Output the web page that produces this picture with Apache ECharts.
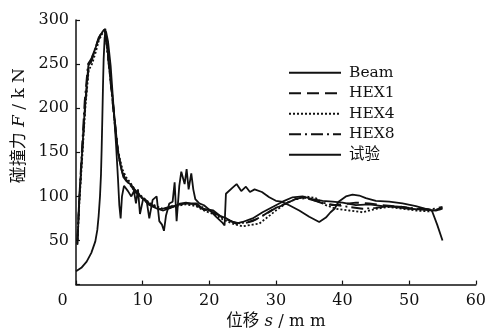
<!DOCTYPE html>
<html>
<head>
<meta charset="utf-8">
<script src="https://cdn.jsdelivr.net/npm/echarts@6/dist/echarts.min.js"></script>
<style>html,body{margin:0;padding:0;background:#fff}#c{width:489px;height:335px}</style>
</head>
<body>
<div id="c"></div>
<script>
var seriesNames = ['Beam', 'HEX1', 'HEX4', 'HEX8', '试验'];
var xTicks = [0, 10, 20, 30, 40, 50, 60];
var yTicks = [0, 50, 100, 150, 200, 250, 300];

var beamData = [[0.2,45],[0.5,95],[0.85,142],[1.35,203],[1.85,248],[2.2,252],[2.6,262],[3.1,272],[3.6,282],[4.0,287],[4.4,290],[4.8,262],[5.3,225],[5.8,188],[6.3,150],[6.7,135],[7.1,122],[7.6,117],[8.3,113],[9.1,105],[10.1,97],[11.1,90],[12.2,86],[13.1,84],[14.2,87],[15.1,90],[16.6,92],[18.1,92],[19,86],[20.6,84],[21.6,78],[22.6,75],[24,69],[25,71],[26.5,75],[28,82],[29.5,88],[31,94],[32.5,99],[34,100],[35.5,97],[37,95],[38.5,94],[40,93],[42,90],[44,91],[46,89],[48,88],[50,86],[52,85],[54,84],[55,86]];
var hex1Data = [[0.2,48],[0.5,98],[0.9,145],[1.4,205],[1.9,246],[2.4,255],[2.9,268],[3.4,280],[3.9,286],[4.3,288],[4.7,268],[5.2,232],[5.7,195],[6.2,158],[6.6,138],[7.0,126],[7.5,119],[8.2,112],[9.0,104],[10,98],[11,92],[12,88],[13,86],[14,88],[15,91],[16.5,93],[18,90],[19.2,85],[20.6,82],[22,76],[23.5,71],[25,69],[26.5,72],[28,78],[29.5,85],[31,90],[32.5,96],[34,99],[35.5,96],[37,92],[38.5,90],[40,91],[42,93],[44,92],[46,90],[48,89],[50,87],[52,86],[54,85],[55,87]];
var hex4Data = [[0.2,46],[0.5,92],[0.9,140],[1.4,200],[1.9,243],[2.4,250],[2.9,262],[3.4,276],[3.9,284],[4.3,287],[4.7,266],[5.2,230],[5.7,192],[6.2,156],[6.6,142],[7.0,130],[7.5,122],[8.2,115],[9.0,106],[10,99],[11,93],[12,89],[13,86],[14,87],[15,89],[16.5,91],[18,89],[19.2,84],[20.6,80],[22,74],[23.5,69],[25,66],[26.5,68],[27.5,69],[28.5,75],[30,84],[31.5,92],[33,97],[34.5,100],[36,98],[37.5,90],[39,86],[41,84],[43,82],[45,86],[47,88],[49,86],[51,84],[53,83],[55,86]];
var hex8Data = [[0.2,50],[0.5,100],[0.85,148],[1.3,208],[1.8,250],[2.3,256],[2.8,266],[3.3,277],[3.8,285],[4.2,289],[4.6,272],[5.1,236],[5.6,198],[6.1,162],[6.5,142],[6.9,128],[7.4,120],[8.1,113],[8.9,106],[9.9,98],[10.9,91],[12,87],[13,85],[14,87],[15,90],[16.5,92],[18,91],[19.5,86],[21,80],[22.5,74],[24,70],[25.5,70],[27,74],[28.5,80],[30,87],[31.5,92],[33,97],[34.5,98],[36,95],[37.5,92],[39,90],[41,88],[43,86],[45,87],[47,89],[49,88],[51,86],[53,85],[55,88]];
var testData = [[0,15],[0.8,19],[1.6,26],[2.3,36],[2.9,49],[3.2,62],[3.4,78],[3.6,100],[3.75,125],[3.85,154],[3.95,188],[4.05,225],[4.15,256],[4.3,280],[4.5,287],[4.8,276],[5.2,248],[5.6,205],[6.0,160],[6.3,120],[6.5,90],[6.7,75],[6.9,100],[7.2,112],[7.8,106],[8.3,100],[8.7,106],[9.0,92],[9.3,108],[9.6,80],[10.1,98],[10.6,95],[11.0,75],[11.5,96],[12.1,100],[12.5,72],[12.9,68],[13.2,61],[13.5,78],[14.0,92],[14.5,94],[14.8,116],[15.1,72],[15.5,112],[15.8,128],[16.3,114],[16.6,131],[16.9,108],[17.3,126],[17.6,108],[17.9,97],[18.5,92],[19.2,90],[20,85],[21,77],[22,70],[22.3,67],[22.5,103],[23.5,110],[24.1,114],[24.8,106],[25.5,111],[26.1,105],[26.8,108],[27.9,105],[29,99],[30,95],[30.8,94],[32,90],[33.5,84],[35,77],[36.5,71],[37.5,76],[38.2,82],[38.8,86],[39.4,94],[40.5,100],[41.5,102],[42.5,101],[43.5,98],[45,95],[47,94],[49,92],[51,89],[53.4,84],[54.2,68],[55,50]];

var allData = [beamData, hex1Data, hex4Data, hex8Data, testData];
var dashTypes = ['solid', [12, 6], [2, 2], [12, 4, 2, 4], 'solid'];

var FONT = '"DejaVu Serif", "Liberation Serif", "Noto Sans CJK SC", serif';

var chart = echarts.init(document.getElementById('c'), null, {renderer: 'canvas'});
chart.setOption({
  animation: false,
  backgroundColor: '#fff',
  grid: {left: 76, right: 12, top: 20, bottom: 49, containLabel: false},
  legend: {
    orient: 'vertical',
    left: 283,
    top: 60,
    itemWidth: 52,
    itemHeight: 14,
    itemGap: 5,
    data: seriesNames,
    itemStyle: {opacity: 0},
    textStyle: {fontFamily: FONT, fontSize: 15.5, color: '#111', padding: [0, 0, 0, 3]}
  },
  xAxis: {
    type: 'value',
    min: xTicks[0],
    max: xTicks[xTicks.length - 1],
    interval: 10,
    name: '{a|位移 }{b|s}{a| / m m}',
    nameLocation: 'middle',
    nameGap: 25,
    nameTextStyle: {
      rich: {
        a: {fontFamily: FONT, fontSize: 16.5, color: '#111'},
        b: {fontFamily: FONT, fontSize: 16.5, fontStyle: 'italic', color: '#111'}
      }
    },
    axisLine: {show: true, lineStyle: {color: '#111', width: 1.5}},
    axisTick: {show: true, inside: true, length: 4, lineStyle: {color: '#111', width: 1.2}},
    axisLabel: {
      margin: 8,
      fontFamily: FONT, fontSize: 16, color: '#111',
      formatter: function (v) { return v === 0 ? '{z|0}' : String(v); },
      rich: {z: {fontFamily: FONT, fontSize: 16, color: '#111', padding: [0, 27, 0, 0]}}
    },
    splitLine: {show: false}
  },
  yAxis: {
    type: 'value',
    min: yTicks[0],
    max: yTicks[yTicks.length - 1],
    interval: 50,
    axisLine: {show: true, lineStyle: {color: '#111', width: 1.5}},
    axisTick: {show: true, inside: true, length: 4, lineStyle: {color: '#111', width: 1.2}},
    axisLabel: {
      margin: 7,
      fontFamily: FONT, fontSize: 16, color: '#111',
      formatter: function (v) { return v === 0 ? '' : String(v); }
    },
    splitLine: {show: false}
  },
  graphic: [{
    type: 'text',
    left: 11,
    top: 68,
    rotation: Math.PI / 2,
    style: {
      text: '{a|碰撞力 }{b|F}{a| / k N}',
      rich: {
        a: {fontFamily: FONT, fontSize: 17, fill: '#111'},
        b: {fontFamily: FONT, fontSize: 17, fontStyle: 'italic', fill: '#111'}
      }
    }
  }],
  series: seriesNames.map(function (n, i) {
    return {
      name: n,
      type: 'line',
      data: allData[i],
      symbol: 'none',
      smooth: false,
      lineStyle: {color: '#111', width: 1.8, type: dashTypes[i]},
      itemStyle: {color: '#111'}
    };
  })
});
</script>
</body>
</html>
